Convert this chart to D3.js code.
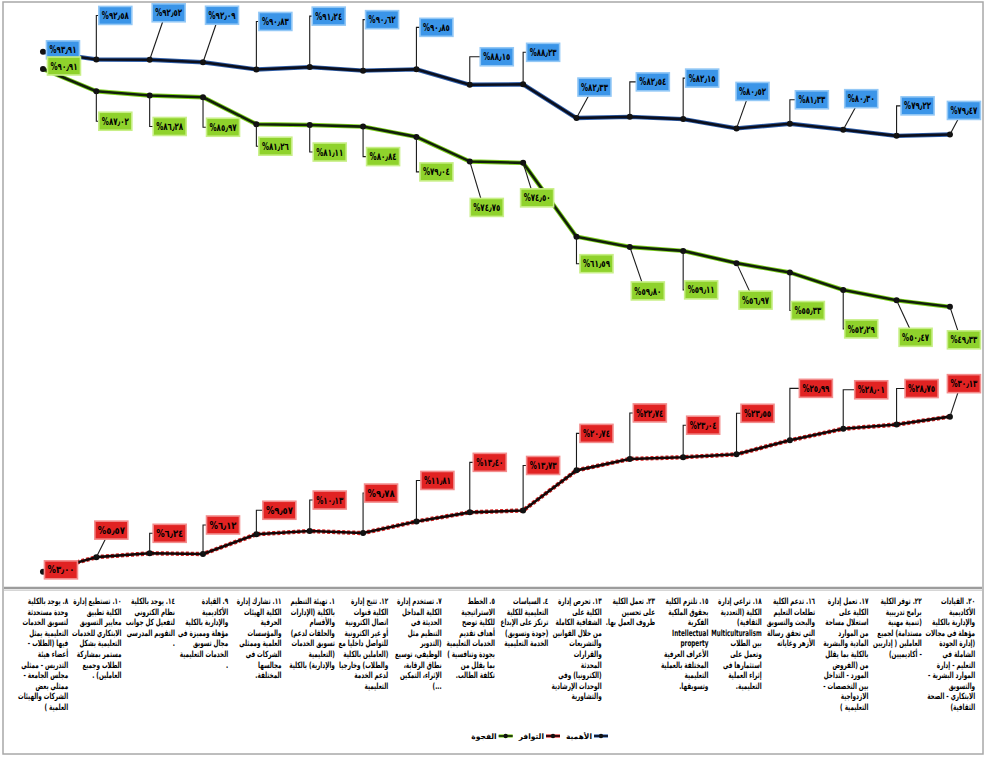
<!DOCTYPE html>
<html lang="ar">
<head>
<meta charset="utf-8">
<script src="https://cdn.jsdelivr.net/npm/d3@7/dist/d3.min.js"></script>
<style>
  html, body { margin: 0; padding: 0; background: #ffffff; }
  svg { display: block; font-family: "DejaVu Sans", "Noto Sans", sans-serif; }
</style>
</head>
<body>
<script>
// ---- data -------------------------------------------------------------
const categories = [
  "٨. يوجد بالكلية وحدة مستحدثة لتسويق الخدمات التعليمية يمثل فيها (الطلاب - أعضاء هيئة التدريس - ممثلي مجلس الجامعة - ممثلي بعض الشركات والهيئات العلمية )",
  "١٠. تستطيع إدارة الكلية تطبيق معايير التسويق الابتكاري للخدمات التعليمية بشكل مستمر بمشاركة الطلاب وجميع العاملين) .",
  "١٤. يوجد بالكلية نظام الكتروني لتفعيل كل جوانب التقويم المدرسي .",
  "٩. القيادة الأكاديمية والإدارية بالكلية مؤهلة ومميزة في مجال تسويق الخدمات التعليمية .",
  "١١. تشارك إدارة الكلية الهيئات الحرفية والمؤسسات العلمية وممثلي الشركات في مجالسها المختلفة.",
  "١. تهيئة التنظيم بالكلية (الإدارات والأقسام والحلقات لدعم) تسويق الخدمات (التعليمية والإدارية) بالكلية",
  "١٢. تتيح إدارة الكلية قنوات اتصال الكترونية أو غير الكترونية للتواصل داخليا مع (العاملين بالكلية والطلاب) وخارجيا لدعم الخدمة التعليمية",
  "٧. تستخدم إدارة الكلية المداخل الحديثة في التنظيم مثل (التدوير الوظيفي، توسيع نطاق الرقابة، الإثراء، التمكين ...)",
  "٥. الخطط الاستراتيجية للكلية توضح أهداف تقديم الخدمات التعليمية بجودة وتنافسية ) بما يقلل من تكلفة الطالب.",
  "٤. السياسات التعليمية للكلية ترتكز على الإبداع (جودة وتسويق) الخدمة التعليمية",
  "١٣. تحرص إدارة الكلية على الشفافية الكاملة من خلال القوانين والتشريعات والقرارات المحدثة (الكترونيا) وفي الوحدات الإرشادية والتشاورية",
  "٢٣. تعمل الكلية على تحسين ظروف العمل بها.",
  "١٥. تلتزم الكلية بحقوق الملكية الفكرية Intellectual property الأعراف العرفية المختلفة بالعملية التعليمية وتسويقها.",
  "١٨. تراعي إدارة الكلية (التعددية الثقافية) Multiculturalism بين الطلاب وتعمل على استثمارها في إثراء العملية التعليمية.",
  "١٦. تدعم الكلية تطلعات التعليم والبحث والتسويق التي تحقق رسالة الأزهر وغاياته",
  "١٧. تعمل إدارة الكلية على استغلال مساحة من الموارد المادية والبشرية بالكلية بما يقلل من (الفروض المورد - التداخل بين التخصصات - الازدواجية التعليمية )",
  "٢٢. توفر الكلية برامج تدريبية (تنمية مهنية مستدامة) لجميع العاملين ( إداريين - أكاديميين)",
  "٢٠. القيادات الأكاديمية والإدارية بالكلية مؤهلة في مجالات (إدارة الجودة الشاملة في التعليم - إدارة الموارد البشرية - والتسويق الابتكاري - الصحة الثقافية)"
];

const importance   = [93.91, 92.58, 92.52, 92.09, 90.83, 91.24, 90.62, 90.85, 88.15, 88.23, 82.33, 82.54, 82.15, 80.52, 81.33, 80.30, 79.22, 79.47];
const availability = [3.00, 5.57, 6.24, 6.12, 9.57, 10.13, 9.78, 11.81, 13.40, 13.73, 20.74, 22.74, 23.04, 23.55, 25.99, 28.01, 28.75, 30.13];
const gap          = [90.91, 87.02, 86.28, 85.97, 81.26, 81.11, 80.84, 79.04, 74.75, 74.50, 61.59, 59.80, 59.11, 56.97, 55.33, 52.29, 50.47, 49.33];

const seriesNames = ["الأهمية", "التوافر", "الفجوة"];

// ---- callout layout: box centre offset from the point, leader kind ----
// "e" = elbow leader, "d" = straight leader, "" = box beside the point
const importanceCallouts = [
  [20, -2, ""], [19, -44, "e"], [19, -47, "d"], [19, -47, "d"], [19, -48, "e"], [19, -51, "e"],
  [19, -51, "e"], [20, -42, "e"], [27, -28, "e"], [20, -32, "e"], [18, -31, "d"], [23, -35, "e"],
  [19, -41, "e"], [16, -37, "d"], [22, -24, "e"], [18, -31, "d"], [21, -30, "e"], [14, -24, "d"]
];
const gapCallouts = [
  [21, -3, ""], [19, 30, "e"], [20, 31, "e"], [20, 30, "e"], [19, 22, "e"], [20, 27, "e"],
  [20, 30, "e"], [20, 35, "e"], [17, 46, "d"], [14, 35, "d"], [20, 27, "e"], [18, 44, "d"],
  [18, 39, "e"], [19, 37, "d"], [18, 38, "e"], [18, 39, "e"], [19, 37, "d"], [14, 33, "d"]
];
const availabilityCallouts = [
  [18, -2, ""], [15, -27, "d"], [20, -20, "e"], [20, -29, "e"], [23, -24, "e"], [20, -31, "e"],
  [18, -40, "e"], [21, -41, "e"], [20, -50, "e"], [20, -45, "e"], [20, -37, "e"], [20, -46, "e"],
  [20, -32, "e"], [21, -41, "e"], [26, -52, "e"], [28, -39, "e"], [25, -36, "e"], [14, -33, "d"]
];

// ---- canvas -----------------------------------------------------------
const W = 985, H = 757;
const svg = d3.select("body").append("svg").attr("width", W).attr("height", H);

// outer frame
svg.append("rect")
  .attr("x", 3).attr("y", 2).attr("width", 980).attr("height", 752)
  .attr("fill", "none").attr("stroke", "#a8a8a8").attr("stroke-width", 1.5);

const x = d3.scaleBand().domain(categories).range([16.3, 976.6]).padding(0);
const y = d3.scaleLinear().domain([0, 100]).range([589, 17]);
const px = i => x(categories[i]) + x.bandwidth() / 2;

// category axis line
svg.append("line")
  .attr("x1", 4).attr("x2", 982).attr("y1", 588).attr("y2", 588)
  .attr("stroke", "#9c9c9c").attr("stroke-width", 2.4);
svg.append("line")
  .attr("x1", 4).attr("x2", 982).attr("y1", 590.5).attr("y2", 590.5)
  .attr("stroke", "#d6d6d6").attr("stroke-width", 1);

// ---- lines ------------------------------------------------------------
const line = d3.line().x((d, i) => px(i)).y(d => y(d));

const series = [
  { values: importance,   halo: "#2f5ea8", core: "#0b0f1e", dash: null,  box: "#3b95e8", boxEdge: "#93c8f6", callouts: importanceCallouts },
  { values: availability, halo: "#d52323", core: "#140606", dash: "3,2", box: "#e12323", boxEdge: "#f38d8d", callouts: availabilityCallouts },
  { values: gap,          halo: "#7ccf1c", core: "#12200a", dash: null,  box: "#8fd22c", boxEdge: "#c8ef88", callouts: gapCallouts }
];

const gLines = svg.append("g");
series.forEach(s => {
  gLines.append("path").datum(s.values)
    .attr("d", line).attr("fill", "none")
    .attr("stroke", s.halo).attr("stroke-width", 4.4)
    .attr("stroke-dasharray", s.dash)
    .attr("stroke-linejoin", "round");
  gLines.append("path").datum(s.values)
    .attr("d", line).attr("fill", "none")
    .attr("stroke", s.core).attr("stroke-width", 2.6)
    .attr("stroke-linejoin", "round");
  gLines.selectAll(null).data(s.values).enter().append("circle")
    .attr("cx", (d, i) => px(i)).attr("cy", d => y(d)).attr("r", 3)
    .attr("fill", "#111");
});

// ---- value callouts ---------------------------------------------------
const arabicDigits = "٠١٢٣٤٥٦٧٨٩";
const fmt = v => "%" + v.toFixed(2).replace(/[0-9]/g, c => arabicDigits[+c]).replace(".", "٫");

const BW = 33, BH = 18;
const gLead = svg.append("g");
const gBox = svg.append("g");
series.forEach(s => {
  s.values.forEach((v, i) => {
    const x0 = px(i), y0 = y(v);
    const [dx, dy, kind] = s.callouts[i];
    const cx = x0 + dx, cy = y0 + dy;
    if (kind === "e") {
      gLead.append("path")
        .attr("d", `M${x0},${y0}V${cy}H${cx - BW / 2}`)
        .attr("fill", "none").attr("stroke", "#1a1a1a").attr("stroke-width", 1.1);
    } else if (kind === "d") {
      gLead.append("line")
        .attr("x1", x0).attr("y1", y0)
        .attr("x2", cx - 6).attr("y2", cy + (dy < 0 ? BH / 2 : -BH / 2))
        .attr("stroke", "#1a1a1a").attr("stroke-width", 1.1);
    }
    gBox.append("rect")
      .attr("x", cx - BW / 2).attr("y", cy - BH / 2)
      .attr("width", BW).attr("height", BH)
      .attr("fill", s.box).attr("stroke", s.boxEdge).attr("stroke-width", 1.6);
    gBox.append("text")
      .attr("x", cx).attr("y", cy + 3.6)
      .attr("text-anchor", "middle")
      .attr("font-size", 10).attr("font-weight", "bold").attr("fill", "#000")
      .attr("textLength", 27).attr("lengthAdjust", "spacingAndGlyphs")
      .text(fmt(v));
  });
});

// ---- category labels (wrapped, right aligned, horizontally condensed) --
const FS = 8.6, LH = 10.6, SX = 0.66, colW = (x.bandwidth() - 3) / SX;
const gCat = svg.append("g")
  .attr("font-size", FS).attr("font-weight", "bold").attr("fill", "#000");
const probe = gCat.append("text").attr("direction", "rtl").attr("visibility", "hidden");
const measure = str => { probe.text(str); return probe.node().getComputedTextLength(); };

categories.forEach(cat => {
  const words = cat.split(/\s+/);
  const lines = [];
  let cur = "";
  words.forEach(w => {
    const test = cur ? cur + " " + w : w;
    if (cur && measure(test) > colW) { lines.push(cur); cur = w; }
    else cur = test;
  });
  if (cur) lines.push(cur);
  const right = x(cat) + x.bandwidth() - 1.5;
  const t = gCat.append("text")
    .attr("direction", "rtl").attr("text-anchor", "start")
    .attr("transform", `translate(${right},0) scale(${SX},1)`)
    .attr("x", 0).attr("y", 604);
  lines.forEach((ln, k) => {
    const span = t.append("tspan").attr("x", 0).attr("y", 604 + k * LH).text(ln);
    // a single word wider than the column is squeezed to fit it
    if (measure(ln) > colW) span.attr("textLength", colW).attr("lengthAdjust", "spacingAndGlyphs");
  });
});
probe.remove();

// ---- legend -----------------------------------------------------------
const legend = svg.append("g").attr("font-size", 7.5).attr("font-weight", "bold");
let lx = 608; // right edge, items run right to left
series.forEach((s, i) => {
  legend.append("line")
    .attr("x1", lx - 14).attr("x2", lx).attr("y1", 736).attr("y2", 736)
    .attr("stroke", s.halo).attr("stroke-width", 3.2);
  legend.append("line")
    .attr("x1", lx - 14).attr("x2", lx).attr("y1", 736).attr("y2", 736)
    .attr("stroke", s.core).attr("stroke-width", 1.6);
  legend.append("circle").attr("cx", lx - 7).attr("cy", 736).attr("r", 2.2).attr("fill", "#111");
  const t = legend.append("text")
    .attr("direction", "rtl").attr("text-anchor", "start")
    .attr("x", lx - 16).attr("y", 738.8).text(seriesNames[i]);
  lx = lx - 16 - t.node().getComputedTextLength() - 6;
});
</script>
</body>
</html>
